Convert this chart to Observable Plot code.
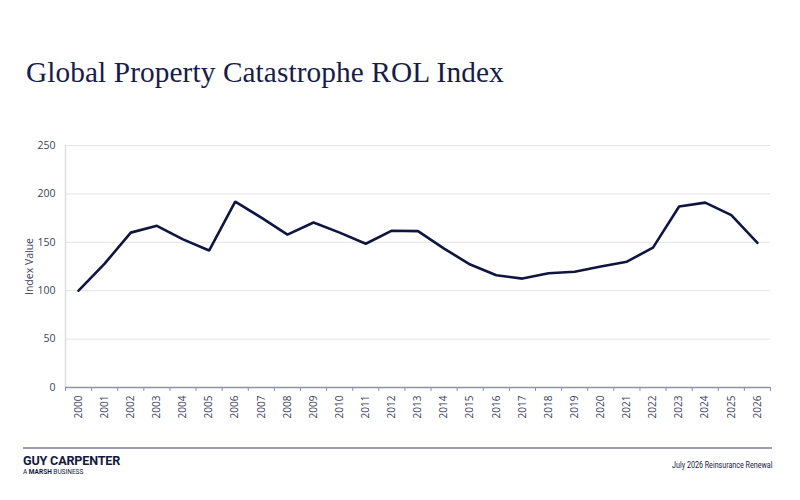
<!DOCTYPE html>
<html>
<head>
<meta charset="utf-8">
<script src="https://cdn.jsdelivr.net/npm/d3@7"></script>
<script src="https://cdn.jsdelivr.net/npm/@observablehq/plot@0.6"></script>
<style>
  html, body { margin: 0; padding: 0; background: #fff; }
  #page { position: relative; width: 800px; height: 500px; overflow: hidden; font-family: "Open Sans", sans-serif; }
  #title { position: absolute; left: 26px; top: 56px; font-family: "Liberation Serif", serif; font-size: 29.3px; letter-spacing: 0.1px; color: #181c4a; white-space: nowrap; }
  #chart { position: absolute; left: 0; top: 120px; }
  #rule { position: absolute; left: 23px; top: 447px; width: 749px; height: 2px; background: #9c9eb8; }
  #brand { position: absolute; left: 23px; top: 454px; color: #14183f; }
  #brand .name { font-family: "Roboto", sans-serif; font-weight: 700; font-size: 13px; letter-spacing: -0.2px; line-height: 14px; transform: scaleX(0.97); transform-origin: left; }
  #brand .sub { font-family: "Roboto", sans-serif; font-size: 6.5px; line-height: 8px; }
  #brand .sub b { font-weight: 700; }
  #note { position: absolute; right: 28px; top: 460px; font-family: "Roboto", sans-serif; font-size: 8.5px; color: #14183f; transform: scaleX(0.84); transform-origin: right; }
</style>
</head>
<body>
<div id="page">
  <div id="title">Global Property Catastrophe ROL Index</div>
  <div id="chart"></div>
  <div id="rule"></div>
  <div id="brand"><div class="name">GUY CARPENTER</div><div class="sub">A <b>MARSH</b> BUSINESS</div></div>
  <div id="note">July 2026 Reinsurance Renewal</div>
</div>
<script>
// Global property cat rate-on-line index, 2000 = 100
const years = [2000, 2001, 2002, 2003, 2004, 2005, 2006, 2007, 2008, 2009, 2010, 2011, 2012, 2013,
               2014, 2015, 2016, 2017, 2018, 2019, 2020, 2021, 2022, 2023, 2024, 2025, 2026];
const rolIndex = [100, 128, 160, 167, 153, 141.5, 192, 175.5, 158, 170.5, 160, 148.5, 162, 161.5,
                  143.5, 127, 116, 112.5, 118, 119.5, 125, 130, 144.5, 187, 191, 178, 149.5];
const yTicks = [0, 50, 100, 150, 200, 250];

const data = years.map((year, i) => ({year, value: rolIndex[i]}));
// category boundaries between consecutive years, for the x-axis tick marks
const bounds = [years[0] - 0.5, ...years.map(y => y + 0.5)];

const navy = "#10153f";
const labelColor = "#3b3f62";

const chart = Plot.plot({
  width: 800,
  height: 320,
  marginTop: 25,
  marginBottom: 53,
  marginLeft: 65,
  marginRight: 30,
  style: {fontFamily: "Open Sans, sans-serif", fontSize: "10px", color: labelColor, background: "transparent"},
  x: {type: "linear", domain: [bounds[0], bounds[bounds.length - 1]]},
  y: {domain: [0, 250]},
  marks: [
    Plot.gridY(yTicks, {stroke: "#e3e3e6", strokeOpacity: 1, strokeWidth: 1}),
    Plot.ruleX([bounds[0]], {y1: 0, y2: 250, stroke: "#dedee2", strokeWidth: 1.5}),
    Plot.axisY({ticks: yTicks, tickSize: 0, tickPadding: 10, fontSize: 10.5, label: "Index Value",
                labelAnchor: "center", labelArrow: "none", labelOffset: 40, fill: labelColor}),
    Plot.ruleY([0], {stroke: "#8e91aa", strokeWidth: 1.5}),
    Plot.axisX({ticks: bounds, tickSize: 4, tickFormat: () => "", stroke: "#8e91aa", label: null}),
    Plot.axisX({ticks: years, tickSize: 0, tickPadding: 8, tickRotate: -90, tickFormat: d => String(d),
                fontSize: 10, label: null, fill: labelColor}),
    Plot.line(data, {x: "year", y: "value", stroke: navy, strokeWidth: 2.6, strokeLinejoin: "miter"})
  ]
});
document.getElementById("chart").appendChild(chart);
</script>
</body>
</html>
